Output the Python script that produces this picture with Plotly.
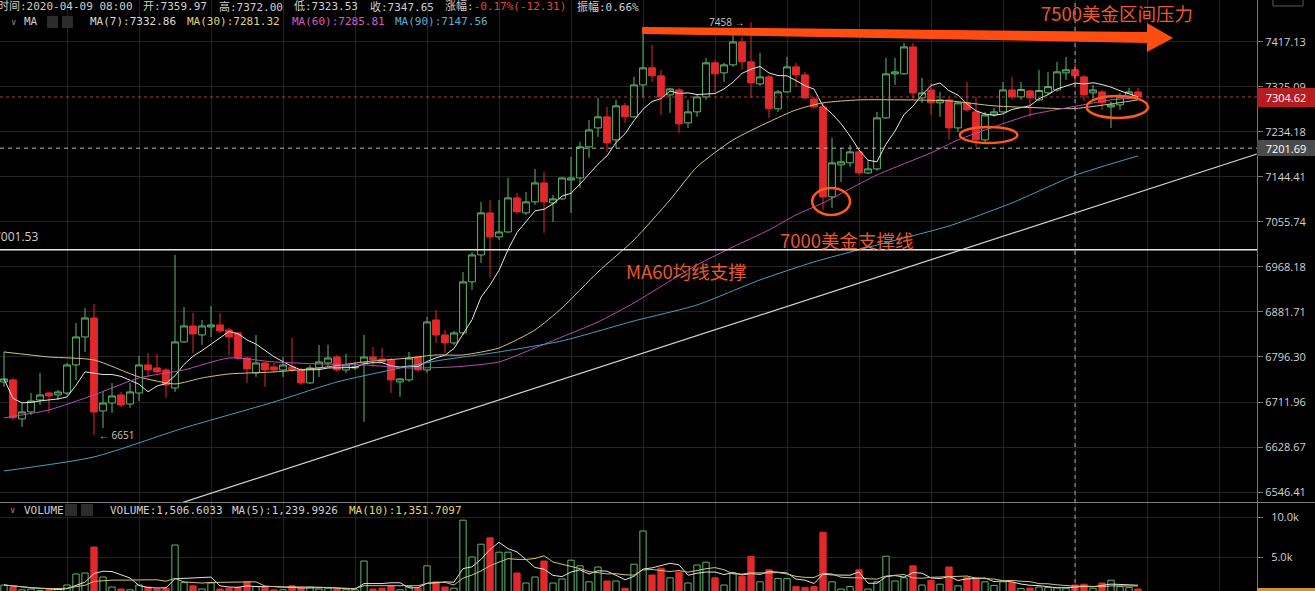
import numpy as np
import pandas as pd
import plotly.graph_objects as go

# ---------------- candle data (4h bars, index 0 .. 126) ----------------
OPEN = [6749.4, 6753.2, 6680.5, 6693.5, 6715.7, 6728.8, 6725.1, 6728.8, 6781.3, 6834.2,
        6870.3, 6695.3, 6710.1, 6725.1, 6708.3, 6728.8, 6781.3, 6775.7, 6771.9, 6738.2,
        6824.8, 6855.1, 6838.0, 6853.2, 6857.0, 6847.5, 6841.8, 6794.4, 6766.3, 6785.1,
        6777.6, 6771.9, 6777.6, 6771.9, 6747.6, 6775.7, 6785.1, 6796.3, 6771.9, 6775.7,
        6785.1, 6796.3, 6792.6, 6790.7, 6749.4, 6753.2, 6796.3, 6771.9, 6866.5, 6838.0,
        6822.9, 6841.8, 6939.4, 6991.5, 7073.5, 7026.5, 7036.2, 7103.0, 7073.5, 7095.2,
        7132.6, 7093.2, 7101.1, 7138.5, 7142.4, 7204.3, 7242.3, 7264.5, 7218.2, 7286.7,
        7264.5, 7329.2, 7364.0, 7347.6, 7308.9, 7319.0, 7252.4, 7274.6, 7304.9, 7374.2,
        7353.7, 7370.1, 7417.1, 7376.2, 7331.2, 7345.5, 7280.7, 7315.0, 7366.0, 7349.6,
        7300.8, 7284.7, 7105.0, 7168.4, 7172.4, 7194.3, 7152.4, 7160.4, 7262.5, 7351.7,
        7351.7, 7406.9, 7302.9, 7319.0, 7292.8, 7298.8, 7242.3, 7292.8, 7274.6, 7218.2,
        7268.5, 7274.6, 7319.0, 7304.9, 7317.0, 7298.8, 7313.0, 7319.0, 7353.7, 7359.97,
        7345.5, 7313.0, 7315.0, 7284.7, 7288.7, 7304.9, 7315.0]
HIGH = [6805.8, 6756.9, 6710.1, 6728.8, 6766.3, 6730.7, 6734.5, 6785.1, 6860.8, 6889.4,
        6897.1, 6732.6, 6747.6, 6730.7, 6747.6, 6798.2, 6803.9, 6802.0, 6775.7, 6991.5,
        6891.3, 6879.8, 6866.5, 6893.2, 6879.8, 6851.3, 6843.7, 6796.3, 6838.0, 6787.0,
        6785.1, 6796.3, 6832.3, 6775.7, 6781.3, 6819.1, 6819.1, 6800.1, 6802.0, 6787.0,
        6838.0, 6815.3, 6813.4, 6794.4, 6756.9, 6805.8, 6798.2, 6872.2, 6885.5, 6847.5,
        6845.6, 6958.6, 6997.3, 7095.2, 7099.1, 7099.1, 7142.4, 7113.0, 7114.9, 7160.4,
        7154.4, 7108.9, 7144.4, 7184.3, 7214.2, 7258.4, 7302.9, 7284.7, 7298.8, 7292.8,
        7345.5, 7446.0, 7411.0, 7359.9, 7323.1, 7323.1, 7298.8, 7308.9, 7384.4, 7380.3,
        7374.2, 7435.6, 7428.0, 7458.0, 7394.6, 7349.6, 7319.0, 7386.4, 7374.2, 7355.8,
        7304.9, 7292.8, 7222.2, 7202.3, 7208.3, 7198.3, 7178.3, 7274.6, 7384.4, 7384.4,
        7415.1, 7415.1, 7343.5, 7333.3, 7315.0, 7302.9, 7294.8, 7335.3, 7304.9, 7274.6,
        7282.7, 7335.3, 7345.5, 7335.3, 7319.0, 7359.9, 7355.8, 7376.2, 7386.4, 7372.00,
        7349.6, 7329.2, 7319.0, 7294.8, 7313.0, 7323.1, 7323.1]
LOW = [6740.1, 6678.7, 6665.7, 6687.9, 6706.4, 6691.6, 6715.7, 6725.1, 6753.2, 6805.8,
       6651.0, 6663.9, 6691.6, 6702.7, 6700.9, 6713.8, 6758.8, 6766.3, 6719.5, 6730.7,
       6822.9, 6803.9, 6819.1, 6834.2, 6841.8, 6800.1, 6790.7, 6747.6, 6758.8, 6740.1,
       6768.2, 6758.8, 6768.2, 6743.8, 6745.7, 6758.8, 6777.6, 6768.2, 6766.3, 6771.9,
       6675.0, 6777.6, 6785.1, 6728.8, 6721.3, 6749.4, 6768.2, 6766.3, 6822.9, 6803.9,
       6819.1, 6838.0, 6924.0, 6975.9, 6949.0, 7020.7, 7034.3, 7071.5, 7069.5, 7089.3,
       7034.3, 7055.7, 7099.1, 7073.5, 7122.7, 7182.3, 7224.2, 7194.3, 7202.3, 7252.4,
       7262.5, 7302.9, 7335.3, 7268.5, 7272.6, 7232.2, 7242.3, 7264.5, 7298.8, 7315.0,
       7335.3, 7366.0, 7359.9, 7302.9, 7327.1, 7262.5, 7274.6, 7313.0, 7325.1, 7298.8,
       7280.7, 7079.4, 7083.3, 7134.6, 7164.4, 7148.4, 7150.4, 7156.4, 7260.5, 7329.2,
       7349.6, 7298.8, 7292.8, 7268.5, 7264.5, 7218.2, 7234.2, 7274.6, 7204.3, 7214.2,
       7264.5, 7272.6, 7298.8, 7298.8, 7264.5, 7296.8, 7308.9, 7315.0, 7339.4, 7323.53,
       7296.8, 7298.8, 7278.6, 7242.3, 7278.6, 7300.8, 7298.8]
CLOSE = [6755.1, 6682.4, 6693.5, 6713.8, 6725.1, 6723.2, 6730.7, 6781.3, 6834.2, 6870.3,
         6693.5, 6710.1, 6723.2, 6706.4, 6730.7, 6781.3, 6771.9, 6768.2, 6743.8, 6824.8,
         6855.1, 6839.9, 6855.1, 6857.0, 6845.6, 6834.2, 6794.4, 6773.8, 6785.1, 6771.9,
         6771.9, 6781.3, 6771.9, 6747.6, 6775.7, 6787.0, 6794.4, 6771.9, 6781.3, 6777.6,
         6796.3, 6790.7, 6787.0, 6753.2, 6755.1, 6794.4, 6771.9, 6862.7, 6838.0, 6822.9,
         6841.8, 6939.4, 6991.5, 7073.5, 7026.5, 7036.2, 7103.0, 7075.5, 7095.2, 7132.6,
         7095.2, 7101.1, 7142.4, 7142.4, 7204.3, 7238.2, 7264.5, 7212.2, 7286.7, 7264.5,
         7329.2, 7364.0, 7347.6, 7304.9, 7321.1, 7250.4, 7274.6, 7304.9, 7374.2, 7351.7,
         7370.1, 7417.1, 7376.2, 7333.3, 7345.5, 7280.7, 7315.0, 7366.0, 7349.6, 7302.9,
         7284.7, 7105.0, 7172.4, 7174.4, 7194.3, 7152.4, 7160.4, 7262.5, 7351.7, 7355.8,
         7406.9, 7313.0, 7313.0, 7292.8, 7298.8, 7242.3, 7292.8, 7278.6, 7218.2, 7268.5,
         7274.6, 7319.0, 7304.9, 7320.0, 7302.9, 7318.0, 7325.71, 7355.8, 7359.96, 7347.65,
         7308.9, 7319.0, 7292.8, 7288.7, 7304.9, 7315.0, 7304.62]
VOLUME = [1500, 1250, 900, 1000, 800, 900, 1000, 1500, 2875, 3000,
          6250, 2500, 1250, 1000, 900, 1500, 1250, 1000, 1100, 6500,
          1800, 1400, 1000, 1750, 1000, 1100, 1200, 1900, 1300, 1250,
          900, 900, 1400, 1200, 1250, 1000, 1100, 1000, 900, 900,
          4500, 1000, 1100, 1400, 900, 1300, 1100, 3900, 1900, 1250,
          1100, 9600, 5000, 6600, 7400, 5600, 5600, 3000, 1750, 2500,
          4500, 1750, 2250, 4600, 3900, 1900, 3750, 2000, 2000, 1100,
          4100, 8250, 2750, 3600, 2400, 3100, 1750, 4000, 4350, 2400,
          1500, 3000, 2600, 5100, 1900, 3400, 2300, 2300, 1300, 1200,
          1300, 8100, 1900, 1000, 1300, 3400, 1000, 1900, 5100, 2000,
          2400, 3900, 1500, 2100, 1600, 3750, 1400, 2450, 2400, 1900,
          1450, 1900, 1800, 1050, 1117.134, 1250, 1200, 1143.3597, 1100, 1506.6033,
          1600, 1100, 1750, 2100, 1300, 1200, 1000]

# longer moving averages, sampled at bar indices
MA30_AT = [0, 5, 10, 15, 19, 22, 25, 30, 35, 40, 45, 48, 51, 55, 59, 62, 66, 70, 74, 77,
           81, 85, 88, 91, 95, 100, 105, 110, 115, 119, 126]
MA30_VAL = [6805.8, 6796.3, 6790.7, 6758.8, 6745.7, 6756.9, 6764.4, 6768.2, 6775.7, 6787.0,
            6794.4, 6800.1, 6800.1, 6813.4, 6847.5, 6889.4, 6958.6, 7020.7, 7099.1, 7164.4,
            7218.2, 7254.4, 7278.6, 7292.8, 7298.8, 7298.8, 7296.8, 7286.7, 7282.7, 7281.32,
            7298.8]
MA60_AT = [0, 5, 10, 15, 20, 25, 30, 35, 40, 45, 50, 55, 59, 62, 66, 70, 74, 77, 81, 85,
           88, 91, 97, 103, 106, 110, 114, 119, 123, 126]
MA60_VAL = [6682.4, 6697.2, 6725.1, 6756.9, 6771.9, 6794.4, 6787.0, 6783.2, 6781.3, 6775.7,
            6777.6, 6787.0, 6813.4, 6834.2, 6862.7, 6899.0, 6941.3, 6972.1, 7007.1, 7040.1,
            7069.5, 7093.2, 7148.4, 7192.3, 7218.2, 7244.3, 7268.5, 7285.81, 7298.8, 7302.9]
MA90_AT = [0, 10, 20, 30, 37, 43, 48, 55, 62, 70, 77, 84, 90, 97, 105, 112, 119, 126]
MA90_VAL = [6584.8, 6610.4, 6663.9, 6712.0, 6749.4, 6771.9, 6788.8, 6805.8, 6826.7, 6864.6,
            6895.1, 6943.2, 6977.9, 7010.9, 7047.9, 7093.2, 7147.56, 7186.3]

# axis ticks
PRICE_TICKS = [7417.13, 7325.09, 7234.18, 7144.41, 7055.74, 6968.18, 6881.71, 6796.30,
               6711.96, 6628.67, 6546.41]
VOLUME_TICKS = [5000, 10000]
VOLUME_TICK_TEXT = ["5.0k", "10.0k"]

# cursor / drawings
CURSOR_INDEX = 119
CURSOR_TIME = "2020-04-09 08:00"
CURSOR_PRICE = 7201.69
LEVEL_PRICE = 7001.53
TREND_LINE = [(19.0, 6523.0), (139.2, 7190.0)]
ARROW_OUTLINE = [(70.9, 7448.1), (127.0, 7437.7), (127.0, 7456.3), (129.9, 7425.4),
                 (127.0, 7396.6), (127.0, 7415.1), (70.9, 7433.6)]
RINGS = [(89.8, 94.0, 7069.6, 7122.6), (106.2, 112.6, 7212.1, 7244.2),
         (120.3, 127.1, 7262.3, 7306.8)]
NOTES = [("7500美金区间压力", 123.7, 7477.1), ("7000美金支撑线", 93.7, 7020.7),
         ("MA60均线支撑", 75.8, 6960.6)]

# ---------------- geometry / style ----------------
W, H = 1315, 591
PLOT_RIGHT = 1257 / W
PRICE_DOM = [1 - 502 / H, 1.0]
VOL_DOM = [0.0, 1 - 503 / H]
X_RANGE = [-0.444, 139.222]
PRICE_RANGE = [6528.3, 7503.9]
VOL_RANGE = [750, 11750]

GREEN = "#5cb96c"
RED = "#e3282c"
GRID = "#232323"
NOTE = "#e9582c"
MONO = "DejaVu Sans Mono, Noto Sans CJK SC, monospace"
SANS = "Open Sans, Noto Sans, sans-serif"
CJK = "Noto Sans CJK SC, sans-serif"

lg = np.log10
idx = np.arange(len(CLOSE))
o, h, l, c, v = map(np.asarray, (OPEN, HIGH, LOW, CLOSE, VOLUME))
up = c >= o

ma7 = pd.Series(c).rolling(7, min_periods=1).mean()
vma5 = pd.Series(v).rolling(5, min_periods=1).mean()
vma10 = pd.Series(v).rolling(10, min_periods=1).mean()

fig = go.Figure()

# trend line (drawn under the candles)
fig.add_trace(go.Scatter(x=[p[0] for p in TREND_LINE], y=lg([p[1] for p in TREND_LINE]),
                         mode="lines", line=dict(color="#d6d6d6", width=1.2),
                         hoverinfo="skip", showlegend=False))

fig.add_trace(go.Candlestick(
    x=idx, open=lg(o), high=lg(h), low=lg(l), close=lg(c),
    increasing=dict(line=dict(color=GREEN, width=1), fillcolor="#000000"),
    decreasing=dict(line=dict(color=RED, width=1), fillcolor=RED),
    whiskerwidth=0, showlegend=False, hoverinfo="skip"))

fig.add_trace(go.Scatter(x=idx, y=lg(ma7), mode="lines",
                         line=dict(color="#e6e6e6", width=1), showlegend=False, hoverinfo="skip"))
for at_, val, col in [(MA30_AT, MA30_VAL, "#d3c47e"), (MA60_AT, MA60_VAL, "#b64db5"),
                      (MA90_AT, MA90_VAL, "#4a9ec2")]:
    fig.add_trace(go.Scatter(x=at_, y=lg(val), mode="lines",
                             line=dict(color=col, width=1, shape="spline", smoothing=0.6),
                             showlegend=False, hoverinfo="skip"))

# volume panel
fig.add_trace(go.Bar(x=idx[up], y=v[up], marker=dict(color="#000000", line=dict(color=GREEN, width=1)),
                     xaxis="x2", yaxis="y2", showlegend=False, hoverinfo="skip"))
fig.add_trace(go.Bar(x=idx[~up], y=v[~up], marker=dict(color=RED, line=dict(color=RED, width=1)),
                     xaxis="x2", yaxis="y2", showlegend=False, hoverinfo="skip"))
fig.add_trace(go.Scatter(x=idx, y=vma5, mode="lines", line=dict(color="#e2e2e2", width=1),
                         xaxis="x2", yaxis="y2", showlegend=False, hoverinfo="skip"))
fig.add_trace(go.Scatter(x=idx, y=vma10, mode="lines", line=dict(color="#cfc47c", width=1),
                         xaxis="x2", yaxis="y2", showlegend=False, hoverinfo="skip"))

grid_x = list(range(7, 140, 8))
xcommon = dict(domain=[0, PLOT_RIGHT], range=X_RANGE, tickvals=grid_x, showticklabels=False,
               ticks="", showgrid=True, gridcolor=GRID, gridwidth=1, zeroline=False, showline=False)
fig.update_layout(
    width=W, height=H, margin=dict(l=0, r=0, t=0, b=0),
    paper_bgcolor="#000000", plot_bgcolor="#000000",
    showlegend=False, barmode="overlay", bargap=0.3, boxgap=0.25, boxgroupgap=0,
    xaxis=dict(anchor="y", rangeslider=dict(visible=False), **xcommon),
    xaxis2=dict(anchor="y2", matches="x", **xcommon),
    yaxis=dict(domain=PRICE_DOM, range=lg(PRICE_RANGE), side="right", anchor="x",
               tickvals=lg(PRICE_TICKS), ticktext=[f"{p:.2f}" for p in PRICE_TICKS],
               tickfont=dict(family=SANS, size=11, color="#d2d2d2"),
               ticks="outside", ticklen=5, tickcolor="#777777",
               showgrid=True, gridcolor=GRID, zeroline=False,
               showline=True, linecolor="#777777", linewidth=1),
    yaxis2=dict(domain=VOL_DOM, range=VOL_RANGE, side="right", anchor="x2",
                tickvals=VOLUME_TICKS, ticktext=VOLUME_TICK_TEXT,
                tickfont=dict(family=SANS, size=11, color="#d2d2d2"),
                ticks="outside", ticklen=5, tickcolor="#777777", ticklabelstandoff=6,
                showgrid=True, gridcolor=GRID, zeroline=False,
                showline=True, linecolor="#777777", linewidth=1),
)

# ---------------- reference lines ----------------
shapes = []
shapes.append(dict(type="line", xref="paper", yref="paper", x0=0, x1=1, y0=1 - 502.5 / H, y1=1 - 502.5 / H,
                   line=dict(color="#7c7c7c", width=1)))
shapes.append(dict(type="line", xref="paper", yref="y", x0=0, x1=PLOT_RIGHT,
                   y0=lg(c[-1]), y1=lg(c[-1]), line=dict(color="#a8433b", width=1, dash="3px,3px")))
shapes.append(dict(type="line", xref="paper", yref="y", x0=0, x1=PLOT_RIGHT,
                   y0=lg(CURSOR_PRICE), y1=lg(CURSOR_PRICE), line=dict(color="#b8b8b8", width=1, dash="4px,4px")))
shapes.append(dict(type="line", xref="x", yref="paper", x0=CURSOR_INDEX, x1=CURSOR_INDEX, y0=0, y1=1,
                   line=dict(color="#a8a8a8", width=1, dash="4px,4px")))
shapes.append(dict(type="line", xref="paper", yref="y", x0=0, x1=PLOT_RIGHT,
                   y0=lg(LEVEL_PRICE), y1=lg(LEVEL_PRICE), line=dict(color="#e8e8e8", width=1.5)))

# resistance arrow
path = "M " + " L ".join(f"{x},{lg(p)}" for x, p in ARROW_OUTLINE) + " Z"
shapes.append(dict(type="path", xref="x", yref="y", path=path, fillcolor="#ff4d12",
                   line=dict(width=0)))
for x0, x1, p0, p1 in RINGS:
    shapes.append(dict(type="circle", xref="x", yref="y", x0=x0, x1=x1, y0=lg(p0), y1=lg(p1),
                       line=dict(color="#ff5a1e", width=2.5)))


# header icon boxes and small widgets
def px_rect(x0, y0, x1, y1, fill, line="rgba(0,0,0,0)"):
    shapes.append(dict(type="rect", xref="paper", yref="paper", x0=x0 / W, x1=x1 / W,
                       y0=1 - y1 / H, y1=1 - y0 / H, fillcolor=fill, line=dict(color=line, width=1)))


for bx in (47, 62):
    px_rect(bx, 16, bx + 11, 28, "#2c2c2c")
for bx in (65, 81):
    px_rect(bx, 504, bx + 12, 516, "#2c2c2c")
px_rect(1257, 588, W, H + 2, "#d6922c")
px_rect(1273, -4, 1303, 6, "rgba(0,0,0,0)", "#5a5a5a")
fig.update_layout(shapes=shapes)


def px_label(x, y, text, color, size=11, family=MONO, xanchor="left"):
    fig.add_annotation(xref="paper", yref="paper", x=x / W, y=1 - y / H, text=text,
                       showarrow=False, xanchor=xanchor, yanchor="middle",
                       font=dict(family=family, size=size, color=color))


# ---------------- header: cursor bar readout ----------------
k = CURSOR_INDEX
prev = c[k - 1]
chg = c[k] - prev
pct = chg / prev * 100
amp = (h[k] - l[k]) / prev * 100
TXT = "#cfcfcf"
px_label(-4, 7, f"时间:{CURSOR_TIME}", TXT)
px_label(141, 7, f"开:{o[k]:.2f}", TXT)
px_label(216.5, 7, f"高:{h[k]:.2f}", TXT)
px_label(292, 7, f"低:{l[k]:.2f}", TXT)
px_label(367.5, 7, f"收:{c[k]:.2f}", TXT)
px_label(443, 7, f"涨幅:<span style='color:#e2463e'>{pct:.2f}%({chg:.2f})</span>", TXT)
px_label(575, 7, f"振幅:{amp:.2f}%", TXT)


def at(ix, vals, i):
    return vals[ix.index(i)]


px_label(9, 22, "∨", "#8a8a8a", size=9)
px_label(22, 22, "MA", TXT)
px_label(88, 22, f"MA(7):{ma7[k]:.2f}", "#dadada")
px_label(185, 22, f"MA(30):{at(MA30_AT, MA30_VAL, k):.2f}", "#e4d46c")
px_label(290, 22, f"MA(60):{at(MA60_AT, MA60_VAL, k):.2f}", "#cf5fc7")
px_label(393, 22, f"MA(90):{at(MA90_AT, MA90_VAL, k):.2f}", "#57b3d6")

px_label(8, 510, "∨", "#8a8a8a", size=9)
px_label(22, 510, "VOLUME", TXT)
px_label(107.5, 510, f"VOLUME:{v[k]:,.4f}", TXT)
px_label(230, 510, f"MA(5):{vma5[k]:,.4f}", TXT)
px_label(347, 510, f"MA(10):{vma10[k]:,.4f}", "#e4d46c")

# level label on the left edge
px_label(-8, 236, f"{LEVEL_PRICE:.2f}", "#cfcfcf", size=12, family=SANS)
px_label(1288, 1, "^", "#8a8a8a", size=8, xanchor="center")

# high / low markers
hi_i = int(np.argmax(h))
lo_i = int(np.argmin(l))
fig.add_annotation(x=hi_i - 0.6, y=lg(h[hi_i]), xref="x", yref="y", text=f"{h[hi_i]:.0f} →",
                   showarrow=False, xanchor="right", yanchor="middle",
                   font=dict(family=SANS, size=10, color="#c8c8c8"))
fig.add_annotation(x=lo_i + 0.3, y=lg(l[lo_i]), xref="x", yref="y", text=f"← {l[lo_i]:.0f}",
                   showarrow=False, xanchor="left", yanchor="middle",
                   font=dict(family=SANS, size=10, color="#c8c8c8"))

# price tags on the right axis
fig.add_annotation(x=PLOT_RIGHT, y=lg(c[-1]), xref="paper", yref="y", text=f"{c[-1]:.2f}",
                   showarrow=False, xanchor="left", yanchor="middle", width=56, height=17,
                   borderpad=0, borderwidth=1, bordercolor="#b71c1f", bgcolor="#b71c1f",
                   font=dict(family=SANS, size=11, color="#ffffff"))
fig.add_annotation(x=PLOT_RIGHT, y=lg(CURSOR_PRICE), xref="paper", yref="y", text=f"{CURSOR_PRICE:.2f}",
                   showarrow=False, xanchor="left", yanchor="middle", width=56, height=14,
                   borderpad=0, borderwidth=1, bordercolor="#4b4b4b", bgcolor="#4b4b4b",
                   font=dict(family=SANS, size=11, color="#ffffff"))

# chart notes
for text, xi, price in NOTES:
    fig.add_annotation(x=xi, y=lg(price), xref="x", yref="y", text=text, showarrow=False,
                       xanchor="center", yanchor="middle",
                       font=dict(family=CJK, size=18.5, color=NOTE))

fig.write_html("out.html")
